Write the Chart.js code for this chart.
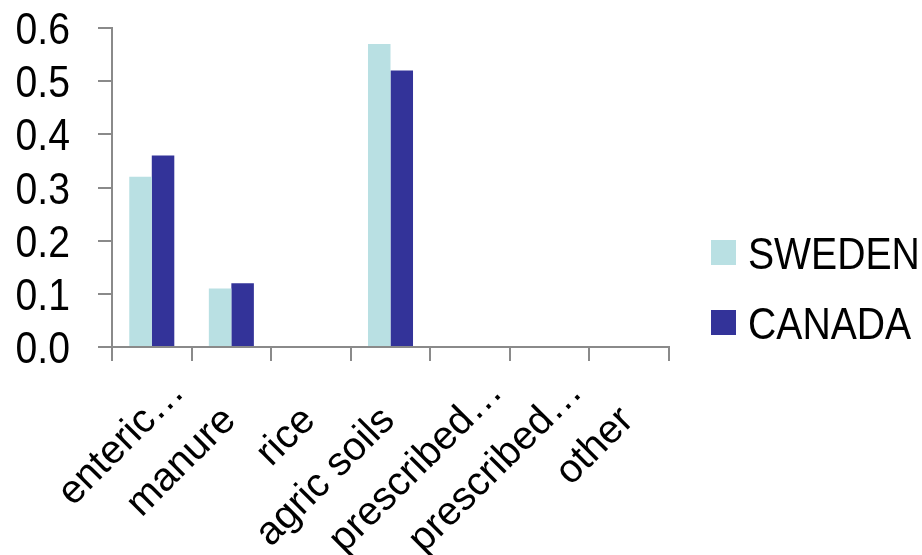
<!DOCTYPE html>
<html>
<head>
<meta charset="utf-8">
<script src="https://cdn.jsdelivr.net/npm/chart.js@4/dist/chart.umd.min.js"></script>
<style>
  html, body { margin: 0; padding: 0; background: #ffffff; }
  canvas { display: block; }
</style>
</head>
<body>
<canvas id="chart" width="922" height="555"></canvas>
<script>
// Emission sources on the category axis
const categories = ['enteric…', 'manure', 'rice', 'agric soils', 'prescribed…', 'prescribed…', 'other'];

// Series values per source
const swedenValues = [0.32, 0.11, 0, 0.57, 0, 0, 0];
const canadaValues = [0.36, 0.12, 0, 0.52, 0, 0, 0];

// Series names
const seriesNames = ['SWEDEN', 'CANADA'];

// Value axis range and step
const yMin = 0;
const yMax = 0.6;
const yStep = 0.1;

const baseFont = "'Liberation Sans', Arial, sans-serif";
const axisGray = '#8a8a8a';

// Condensed text: Liberation Sans squeezed horizontally (Arial Narrow look)
const narrowSize = 45;
const narrowScaleX = 0.87;
const capHalf = narrowSize * 0.716 / 2;

// Category labels: 45° slant, regular width
const catFontSize = 40;

function narrowText(ctx, text, x, yMid, align) {
  ctx.save();
  ctx.translate(x, yMid + capHalf);
  ctx.scale(narrowScaleX, 1);
  ctx.font = narrowSize + 'px ' + baseFont;
  ctx.fillStyle = '#000000';
  ctx.textAlign = align;
  ctx.textBaseline = 'alphabetic';
  ctx.fillText(text, 0, 0);
  ctx.restore();
}

// Axis labels and the series key
const axisLabels = {
  id: 'axisLabels',
  afterDraw(chart) {
    const ctx = chart.ctx;

    // value axis
    const ys = chart.scales.y;
    const labelRight = ys.right - 14 - 28;
    ys.ticks.forEach((t) => {
      narrowText(ctx, Number(t.value).toFixed(1), labelRight, ys.getPixelForValue(t.value), 'right');
    });

    // category axis: the word (without a trailing ellipsis) ends just
    // right of the category centre; the ellipsis runs on past it
    const xs = chart.scales.x;
    ctx.save();
    ctx.font = catFontSize + 'px ' + baseFont;
    xs.ticks.forEach((t, i) => {
      const text = chart.data.labels[i];
      const stem = text.endsWith('…') ? text.slice(0, -1) : text;
      const stemWidth = ctx.measureText(stem).width;
      ctx.save();
      ctx.translate(xs.getPixelForTick(i) + 6, xs.top + 75);
      ctx.rotate(-Math.PI / 4);
      ctx.fillStyle = '#000000';
      ctx.textAlign = 'left';
      ctx.textBaseline = 'alphabetic';
      ctx.fillText(text, -stemWidth, 0);
      ctx.restore();
    });
    ctx.restore();

    // series key
    const boxLeft = chart.chartArea.right + 42;
    const boxSize = 25;
    const firstMid = 252.5;
    const rowGap = 70;
    chart.data.datasets.forEach((ds, i) => {
      const mid = firstMid + i * rowGap;
      ctx.save();
      ctx.fillStyle = ds.backgroundColor;
      ctx.fillRect(boxLeft, mid - boxSize / 2, boxSize, boxSize);
      ctx.restore();
      narrowText(ctx, ds.label, boxLeft + boxSize + 12, mid, 'left');
    });
  }
};

new Chart(document.getElementById('chart'), {
  type: 'bar',
  data: {
    labels: categories,
    datasets: [
      { label: seriesNames[0], data: swedenValues, backgroundColor: '#b9e0e3', borderWidth: 0 },
      { label: seriesNames[1], data: canadaValues, backgroundColor: '#333399', borderWidth: 0 }
    ]
  },
  options: {
    responsive: false,
    animation: false,
    devicePixelRatio: 1,
    layout: { padding: { top: 28, left: 0, right: 253, bottom: 0 } },
    datasets: { bar: { categoryPercentage: 0.566, barPercentage: 1.0 } },
    plugins: {
      tooltip: { enabled: false },
      legend: { display: false }
    },
    scales: {
      x: {
        offset: true,
        grid: {
          offset: true,
          drawOnChartArea: false,
          drawTicks: true,
          tickLength: 14,
          color: axisGray,
          lineWidth: 2
        },
        border: { display: true, color: axisGray, width: 2 },
        ticks: {
          display: false,
          autoSkip: false
        },
        afterFit(scale) { scale.height = 208; }
      },
      y: {
        min: yMin,
        max: yMax,
        grid: {
          drawOnChartArea: false,
          drawTicks: true,
          tickLength: 14,
          color: axisGray,
          lineWidth: 2
        },
        border: { display: true, color: axisGray, width: 2 },
        ticks: {
          display: false,
          autoSkip: false,
          stepSize: yStep
        },
        afterFit(scale) { scale.width = 112; }
      }
    }
  },
  plugins: [axisLabels]
});
</script>
</body>
</html>
